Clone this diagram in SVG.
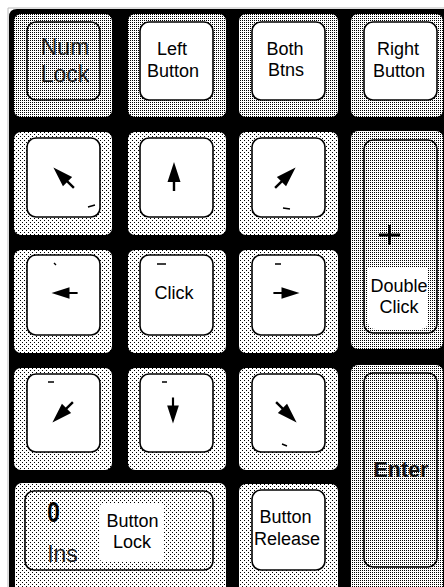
<svg xmlns="http://www.w3.org/2000/svg" width="444" height="587" viewBox="0 0 444 587">
<defs>
<pattern id="dense" width="2" height="2" patternUnits="userSpaceOnUse"><rect width="2" height="2" fill="#fff"/><rect width="1" height="1" fill="#000"/></pattern>
<pattern id="sparse" width="4" height="4" patternUnits="userSpaceOnUse"><rect width="4" height="4" fill="#fff"/><rect width="1" height="1" fill="#000"/><rect x="2" y="2" width="1" height="1" fill="#000"/></pattern>
<path id="arrow" d="M0,-15 L6.5,5 L1.2,5 L1.2,14 L-1.2,14 L-1.2,5 L-6.5,5 Z"/>
</defs>
<style>
.d{fill:url(#dense)}
.s{fill:url(#sparse)}
.w{fill:#fff}
.in{stroke:#000;stroke-width:1.6}
.t{font-family:"Liberation Sans",Arial,sans-serif;font-size:18px;fill:#000;text-anchor:middle}
.big{font-size:23px;fill:#1e1e1e}
.b{font-weight:bold}
.mk{stroke:#000;stroke-width:1.4;fill:none}
</style>
<rect width="444" height="587" fill="#fff"/>
<path d="M8,587 V8 H444" fill="none" stroke="#bbb" stroke-width="1"/>
<path d="M9,17 Q9,9 17,9 H444 V587 H9 Z" fill="#000"/>

<g id="numlock">
<rect x="14" y="14" width="98" height="103" rx="7" class="d"/>
<rect x="27" y="22" width="73" height="78" rx="9" class="d in"/>
<text x="65" y="55" class="t big">Num</text>
<text x="65" y="82" class="t big">Lock</text>
</g>
<g id="left-button">
<rect x="128" y="14" width="98" height="103" rx="7" class="d"/>
<rect x="140" y="22" width="73" height="78" rx="9" class="w in"/>
<text x="172" y="55" class="t">Left</text>
<text x="173" y="77" class="t">Button</text>
</g>
<g id="both-btns">
<rect x="239" y="14" width="99" height="103" rx="7" class="d"/>
<rect x="252" y="22" width="73" height="78" rx="9" class="w in"/>
<text x="285" y="55" class="t">Both</text>
<text x="286" y="76" class="t">Btns</text>
</g>
<g id="right-button">
<rect x="351" y="14" width="92" height="103" rx="7" class="d"/>
<rect x="364" y="22" width="73" height="78" rx="9" class="w in"/>
<text x="398" y="55" class="t">Right</text>
<text x="399" y="77" class="t">Button</text>
</g>

<g id="key-up-left">
<rect x="14" y="132" width="98" height="103" rx="7" class="s"/>
<rect x="27" y="138" width="73" height="79" rx="9" class="w in"/>
<use href="#arrow" transform="translate(64,178) rotate(-45)"/>
</g>
<g id="key-up">
<rect x="128" y="132" width="98" height="103" rx="7" class="s"/>
<rect x="140" y="138" width="73" height="79" rx="9" class="w in"/>
<use href="#arrow" transform="translate(174,177)"/>
</g>
<g id="key-up-right">
<rect x="239" y="132" width="99" height="103" rx="7" class="s"/>
<rect x="252" y="138" width="73" height="79" rx="9" class="w in"/>
<use href="#arrow" transform="translate(285,178) rotate(45)"/>
</g>
<g id="key-plus-double-click">
<rect x="351" y="131" width="92" height="218" rx="7" class="d"/>
<rect x="364" y="140" width="73" height="193" rx="9" class="d in"/>
<path d="M368,267 H428 V322 Q428,329 421,329 H375 Q368,329 368,322 Z" class="w"/>
<path d="M379,235 H400 M389.5,225 V245" stroke="#000" stroke-width="3"/>
<text x="399" y="292" class="t">Double</text>
<text x="399" y="313" class="t">Click</text>
</g>

<g id="key-left">
<rect x="14" y="250" width="98" height="103" rx="7" class="s"/>
<rect x="27" y="255" width="73" height="80" rx="9" class="w in"/>
<use href="#arrow" transform="translate(65,293) rotate(-90) scale(0.9)"/>
</g>
<g id="key-click">
<rect x="128" y="250" width="98" height="103" rx="7" class="s"/>
<rect x="140" y="255" width="73" height="80" rx="9" class="w in"/>
<text x="174" y="299" class="t">Click</text>
</g>
<g id="key-right">
<rect x="239" y="250" width="99" height="103" rx="7" class="s"/>
<rect x="252" y="255" width="73" height="80" rx="9" class="w in"/>
<use href="#arrow" transform="translate(286,293) rotate(90) scale(0.9)"/>
</g>

<g id="key-down-left">
<rect x="14" y="368" width="98" height="102" rx="7" class="s"/>
<rect x="27" y="374" width="73" height="78" rx="9" class="w in"/>
<use href="#arrow" transform="translate(63,412) rotate(-135)"/>
</g>
<g id="key-down">
<rect x="128" y="368" width="98" height="102" rx="7" class="s"/>
<rect x="140" y="374" width="73" height="78" rx="9" class="w in"/>
<use href="#arrow" transform="translate(173,410) rotate(180) scale(0.9)"/>
</g>
<g id="key-down-right">
<rect x="239" y="368" width="99" height="102" rx="7" class="s"/>
<rect x="252" y="374" width="73" height="78" rx="9" class="w in"/>
<use href="#arrow" transform="translate(286,412) rotate(135)"/>
</g>
<g id="key-enter">
<rect x="351" y="365" width="92" height="240" rx="7" class="d"/>
<rect x="364" y="373" width="73" height="194" rx="9" class="d in"/>
<text x="401" y="477" class="t b" style="font-size:21.5px;fill:#111">Enter</text>
</g>

<g id="key-zero-button-lock">
<rect x="15" y="483" width="211" height="120" rx="7" class="s"/>
<rect x="25" y="491" width="188" height="79" rx="9" class="s in"/>
<rect x="100" y="503" width="63" height="59" rx="4" class="w"/>
<text class="t b" style="font-size:30px" transform="translate(53.5,522) scale(0.75,1)">0</text>
<text x="62.5" y="562" class="t big">Ins</text>
<text x="132.5" y="527" class="t">Button</text>
<text x="132" y="548" class="t">Lock</text>
</g>
<g id="key-button-release">
<rect x="239" y="484" width="99" height="120" rx="7" class="s"/>
<rect x="252" y="490" width="73" height="80" rx="9" class="w in"/>
<text x="285.5" y="523" class="t">Button</text>
<text x="287" y="545" class="t">Release</text>
</g>

<g id="marks">
<path class="mk" d="M157,264 H166 M54,263 L56,265 M48,382 H54 M162,382 H167 M275,264 H281 M283,208 L290,209 M88,207 L95,205 M282,444 L287,446"/>
</g>
</svg>
